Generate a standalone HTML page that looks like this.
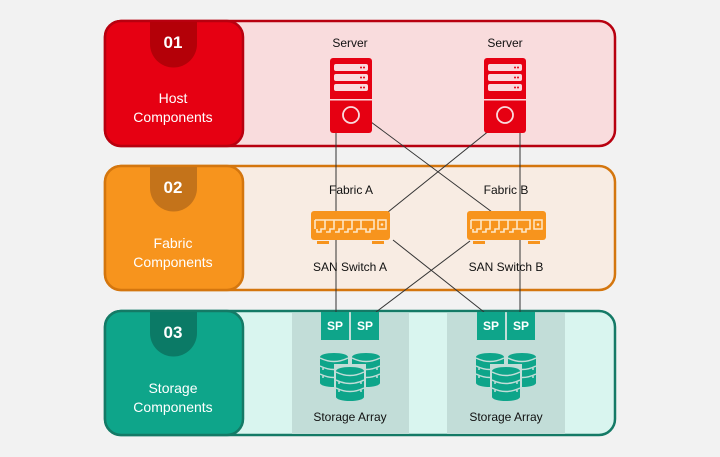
<!DOCTYPE html>
<html><head><meta charset="utf-8"><style>
html,body{margin:0;padding:0;background:#f2f2f2}
svg{display:block;font-family:"Liberation Sans",sans-serif}
</style></head><body>
<svg width="720" height="457" viewBox="0 0 720 457" xmlns="http://www.w3.org/2000/svg">
<defs>
<g id="srv">
<rect x="0" y="0" width="42" height="75" rx="3" fill="#e60012"/>
<rect x="4" y="6" width="34" height="7" rx="2" fill="#fadadd"/>
<rect x="4" y="16" width="34" height="7" rx="2" fill="#fadadd"/>
<rect x="4" y="26" width="34" height="7" rx="2" fill="#fadadd"/>
<circle cx="31" cy="9.5" r="1" fill="#e60012"/><circle cx="34" cy="9.5" r="1" fill="#e60012"/>
<circle cx="31" cy="19.5" r="1" fill="#e60012"/><circle cx="34" cy="19.5" r="1" fill="#e60012"/>
<circle cx="31" cy="29.5" r="1" fill="#e60012"/><circle cx="34" cy="29.5" r="1" fill="#e60012"/>
<rect x="0" y="41" width="42" height="1.5" fill="#fadadd"/>
<circle cx="21" cy="57" r="8" fill="none" stroke="#fadadd" stroke-width="1.8"/>
</g>
<g id="sw">
<rect x="0" y="0" width="79" height="29" rx="3" fill="#f7941d"/>
<path d="M4 9 h59 v9 h-4 v3 h-4 v-3 h-5 M14 9 v9 h-4 v3 h-4 v-3 M23 9 v9 h-4 v3 h-4 M32 9 v9 h-4 v3 h-4 M41 9 v9 h-4 v3 h-4 M50 9 v9 h-4 v3 h-4 M4 9 v9" fill="none" stroke="#fde6c6" stroke-width="1.6"/>
<rect x="67" y="9" width="8" height="9" fill="none" stroke="#fde6c6" stroke-width="1.5"/>
<circle cx="71" cy="13.5" r="1.3" fill="#fde6c6"/>
<rect x="6" y="30" width="12" height="3" fill="#f7941d"/>
<rect x="61" y="30" width="12" height="3" fill="#f7941d"/>
</g>
<g id="cyl">
<rect x="0" y="4" width="28" height="26" fill="#0ea58a"/>
<ellipse cx="14" cy="4" rx="14" ry="4" fill="#0ea58a"/>
<ellipse cx="14" cy="30" rx="14" ry="4" fill="#0ea58a"/>
<path d="M0 5 q14 7 28 0 M0 13 q14 7 28 0 M0 21 q14 7 28 0" fill="none" stroke="#c2ddd8" stroke-width="1.5"/>
<circle cx="3" cy="16" r="1" fill="#c2ddd8"/><circle cx="25" cy="16" r="1" fill="#c2ddd8"/>
<circle cx="3" cy="24" r="1" fill="#c2ddd8"/><circle cx="25" cy="24" r="1" fill="#c2ddd8"/>
</g>
<g id="db">
<use href="#cyl" x="0" y="0"/>
<use href="#cyl" x="32" y="0"/>
<g transform="translate(16,14)"><rect x="-2" y="-3" width="32" height="40" fill="#c2ddd8"/></g>
<use href="#cyl" x="16" y="14"/>
</g>
</defs>
<rect x="105" y="21" width="510" height="125" rx="16" fill="#f9dcdd" stroke="#b8000f" stroke-width="2.5"/>
<rect x="105" y="21" width="138" height="125" rx="16" fill="#e60012" stroke="#b8000f" stroke-width="2.5"/>
<path d="M150 22 h47 v22 a23.5 23.5 0 0 1 -47 0z" fill="#b40008"/>
<text x="173" y="48" font-size="17" font-weight="bold" fill="#fff" text-anchor="middle">01</text>
<text x="173" y="103" font-size="14" fill="#fff" text-anchor="middle">Host</text>
<text x="173" y="122" font-size="14" fill="#fff" text-anchor="middle">Components</text>
<rect x="105" y="166" width="510" height="124" rx="16" fill="#f8ece3" stroke="#d4760e" stroke-width="2.5"/>
<rect x="105" y="166" width="138" height="124" rx="16" fill="#f7941d" stroke="#d4760e" stroke-width="2.5"/>
<path d="M150 167 h47 v21 a23.5 23.5 0 0 1 -47 0z" fill="#c4731a"/>
<text x="173" y="193" font-size="17" font-weight="bold" fill="#fff" text-anchor="middle">02</text>
<text x="173" y="248" font-size="14" fill="#fff" text-anchor="middle">Fabric</text>
<text x="173" y="267" font-size="14" fill="#fff" text-anchor="middle">Components</text>
<rect x="105" y="311" width="510" height="124" rx="16" fill="#d9f5ef" stroke="#147a66" stroke-width="2.5"/>
<rect x="292" y="313" width="117" height="121" fill="#c2ddd8"/>
<rect x="447" y="313" width="118" height="121" fill="#c2ddd8"/>
<rect x="105" y="311" width="138" height="124" rx="16" fill="#0ea58a" stroke="#147a66" stroke-width="2.5"/>
<path d="M150 312 h47 v21 a23.5 23.5 0 0 1 -47 0z" fill="#0b7a66"/>
<text x="173" y="338" font-size="17" font-weight="bold" fill="#fff" text-anchor="middle">03</text>
<text x="173" y="393" font-size="14" fill="#fff" text-anchor="middle">Storage</text>
<text x="173" y="412" font-size="14" fill="#fff" text-anchor="middle">Components</text>
<g stroke="#333" stroke-width="1" fill="none">
<line x1="336" y1="133" x2="336" y2="312"/>
<line x1="520" y1="133" x2="520" y2="312"/>
<line x1="371" y1="122" x2="492" y2="212"/>
<line x1="490" y1="130" x2="388" y2="212"/>
<line x1="393" y1="240" x2="484" y2="312"/>
<line x1="470" y1="241" x2="376" y2="312"/>
</g>
<use href="#srv" x="330" y="58"/>
<use href="#srv" x="484" y="58"/>
<text x="350" y="47" font-size="12" fill="#111" text-anchor="middle">Server</text>
<text x="505" y="47" font-size="12" fill="#111" text-anchor="middle">Server</text>
<text x="351" y="194" font-size="12" fill="#111" text-anchor="middle">Fabric A</text>
<text x="506" y="194" font-size="12" fill="#111" text-anchor="middle">Fabric B</text>
<use href="#sw" x="311" y="211"/>
<use href="#sw" x="467" y="211"/>
<text x="350" y="271" font-size="12" fill="#111" text-anchor="middle">SAN Switch A</text>
<text x="506" y="271" font-size="12" fill="#111" text-anchor="middle">SAN Switch B</text>
<g fill="#0ea58a">
<rect x="321" y="312" width="28" height="28"/><rect x="351" y="312" width="28" height="28"/>
<rect x="477" y="312" width="28" height="28"/><rect x="507" y="312" width="28" height="28"/>
</g>
<g font-size="12" font-weight="bold" fill="#fff" text-anchor="middle">
<text x="335" y="330">SP</text><text x="365" y="330">SP</text>
<text x="491" y="330">SP</text><text x="521" y="330">SP</text>
</g>
<use href="#db" x="320" y="353"/>
<use href="#db" x="476" y="353"/>
<text x="350" y="421" font-size="12" fill="#111" text-anchor="middle">Storage Array</text>
<text x="506" y="421" font-size="12" fill="#111" text-anchor="middle">Storage Array</text>
</svg>
</body></html>
